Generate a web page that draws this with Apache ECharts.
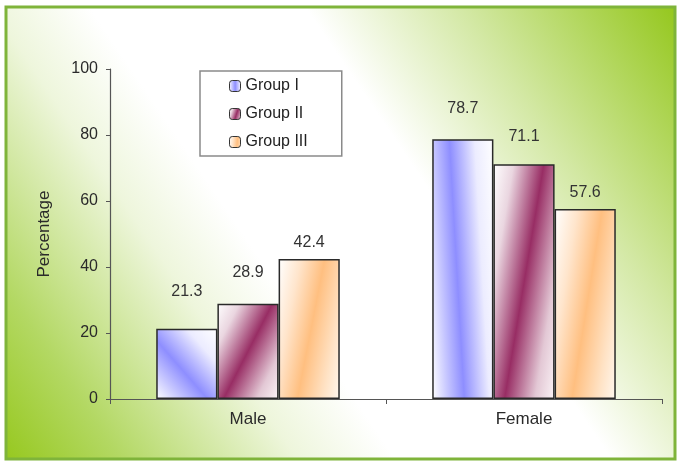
<!DOCTYPE html>
<html>
<head>
<meta charset="utf-8">
<style>
  html, body { margin: 0; padding: 0; background: #ffffff; }
  #chart { width: 678px; height: 462px; }
</style>
<script src="https://cdn.jsdelivr.net/npm/echarts@6/dist/echarts.min.js"></script>
</head>
<body>
<div id="chart"></div>
<script>
// ---- data ----
const categories = ['Male', 'Female'];
const seriesNames = ['Group I', 'Group II', 'Group III'];
const groupI = [21.3, 78.7];
const groupII = [28.9, 71.1];
const groupIII = [42.4, 57.6];
const yTicks = [0, 20, 40, 60, 80, 100];

// ---- styles ----
const labelGap = [[29, 23], [23, 20], [8, 8]];
const stopSets = [
  [[0, '#ffffff'], [0.2, '#c8c8ff'], [0.42, '#8e8eff'], [0.75, '#ececff'], [1, '#ffffff']],
  [[0, '#ffffff'], [0.2, '#ead6e0'], [0.5, '#982d64'], [0.8, '#e3c8d5'], [1, '#fbf4f7']],
  [[0, '#ffffff'], [0.25, '#ffe5cc'], [0.52, '#ffbf80'], [0.8, '#ffe2c4'], [1, '#fff8f0']]
];
// gradient direction per [series][category]: [x, y, x2, y2] in bar-box fractions
const gradDir = [
  [[0, 1, 1.136, 0.137], [0, 1, 1.245, 0.983]],
  [[0, 0, 1.424, 0.47], [0, 0, 1.604, 0.07]],
  [[0, 0, 1.396, 0.119], [0, 0, 1.462, 0.075]]
];
function fill(s, i) {
  const d = gradDir[s][i];
  return {
    type: 'linear', x: d[0], y: d[1], x2: d[2], y2: d[3],
    colorStops: stopSets[s].map(c => ({ offset: c[0], color: c[1] }))
  };
}
const legendFill = [fill(0, 1), fill(1, 0), fill(2, 0)];
const values = [groupI, groupII, groupIII];
const font = 'Arial, "Liberation Sans", sans-serif';

const chart = echarts.init(document.getElementById('chart'), null, { renderer: 'canvas' });
chart.setOption({
  animation: false,
  graphic: [{
    type: 'rect', z: -10, silent: true,
    shape: { x: 6, y: 7, width: 669, height: 452 },
    style: {
      fill: { type: 'linear', x: 0, y: 1, x2: 1, y2: 0, colorStops: [
        { offset: 0, color: '#96c81e' }, { offset: 0.12, color: '#b3d863' },
        { offset: 0.3, color: '#eef6dc' }, { offset: 0.4, color: '#ffffff' },
        { offset: 0.62, color: '#ffffff' }, { offset: 0.78, color: '#d3e8a4' },
        { offset: 1, color: '#94c71c' } ] },
      stroke: '#7fb43a', lineWidth: 3
    }
  }],
  legend: {
    orient: 'vertical',
    left: 200, top: 71,
    padding: [7, 34, 6, 29],
    itemGap: 12,
    itemWidth: 11, itemHeight: 11,
    backgroundColor: '#ffffff',
    borderColor: '#8a8a8a', borderWidth: 1.5,
    textStyle: { fontFamily: font, fontSize: 16, color: '#222' },
    data: seriesNames.map((n, s) => ({ name: n, itemStyle: { color: legendFill[s], borderColor: '#333', borderWidth: 1 } }))
  },
  grid: { left: 110, right: 16, top: 69, bottom: 63, containLabel: false },
  xAxis: {
    type: 'category',
    data: categories,
    axisLine: { lineStyle: { color: '#555', width: 1.2 } },
    axisTick: { show: true, length: 5, lineStyle: { color: '#555' } },
    axisLabel: { fontFamily: font, fontSize: 17, color: '#2a2a2a', margin: 12 }
  },
  yAxis: {
    type: 'value',
    min: yTicks[0], max: yTicks[yTicks.length - 1], interval: yTicks[1] - yTicks[0],
    name: 'Percentage',
    nameLocation: 'middle',
    nameGap: 57,
    nameRotate: 90,
    nameTextStyle: { fontFamily: font, fontSize: 17, color: '#2a2a2a' },
    splitLine: { show: false },
    axisLine: { show: true, lineStyle: { color: '#555', width: 1.2 } },
    axisTick: { show: true, length: 4, lineStyle: { color: '#555' } },
    axisLabel: { fontFamily: font, fontSize: 16, color: '#2a2a2a', margin: 12 }
  },
  series: seriesNames.map((name, s) => ({
    name: name,
    type: 'bar',
    barGap: '0%',
    barCategoryGap: '33.5%',
    itemStyle: { borderColor: '#2a2a2a', borderWidth: 1.5 },
    label: {
      show: true, position: 'top',
      fontFamily: font, fontSize: 16, color: '#333',
      formatter: p => p.value.toFixed(1)
    },
    data: values[s].map((v, i) => ({
      value: v,
      itemStyle: { color: fill(s, i) },
      label: { distance: labelGap[s][i] }
    }))
  }))
});
</script>
</body>
</html>
